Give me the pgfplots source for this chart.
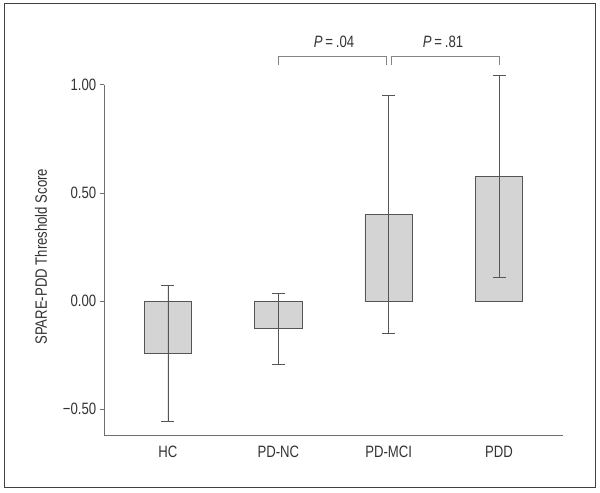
\documentclass[border=0pt]{standalone}
\usepackage{pgfplots}
\pgfplotsset{compat=1.18}
\usepackage{fontspec}
\setmainfont{Liberation Sans}[FakeStretch=0.8]
\definecolor{barfill}{HTML}{D4D4D4}
\definecolor{bardraw}{HTML}{555555}
\definecolor{axisgray}{HTML}{6E6E6E}
\definecolor{txt}{HTML}{333333}
\newcommand{\lblfont}{\fontsize{16.5pt}{19pt}\selectfont}
\begin{document}
\begin{tikzpicture}
\begin{axis}[
  width=459bp, height=351bp, scale only axis,
  xmin=-0.58, xmax=3.58, ymin=-0.622, ymax=1.00,
  axis x line*=bottom, axis y line*=left,
  axis line style={axisgray, line width=0.7pt, -},
  clip=false,
  xtick={0,1,2,3},
  xticklabels={HC, PD-NC, PD-MCI, PDD},
  x tick style={draw=none},
  xticklabel style={yshift=-3bp},
  ytick={-0.5,0,0.5,1},
  yticklabels={−0.50, 0.00, 0.50, 1.00},
  y tick style={axisgray, line width=0.7pt},
  tick align=outside,
  major tick length=4.3bp,
  ticklabel style={font=\lblfont, text=txt},
  ylabel={SPARE-PDD Threshold Score},
  ylabel style={at={(axis description cs:0,0.51)}, anchor=center, yshift=63bp, font=\lblfont, text=txt},
]
\addplot+[ybar, bar width=0.43, bar shift=0pt, fill=barfill, draw=bardraw, line width=0.6pt, mark=none,
  error bars/.cd, y dir=both, y explicit,
  error bar style={color=bardraw, line width=0.5pt},
  error mark options={rotate=90, mark size=6.5bp, color=bardraw, line width=0.5pt}]
  coordinates {
    (0,-0.240) +- (0,0.315)
    (1,-0.128) +- (0,0.164)
    (2,0.400) +- (0,0.549)
    (3,0.578) +- (0,0.466)
  };
% significance brackets
\draw[axisgray!85, line width=0.7pt] (axis cs:1,1.092) -- (axis cs:1,1.131) -- (axis cs:1.98,1.131) -- (axis cs:1.98,1.092);
\draw[axisgray!85, line width=0.7pt] (axis cs:2.025,1.092) -- (axis cs:2.025,1.131) -- (axis cs:3,1.131) -- (axis cs:3,1.092);
\node[text=txt, font=\lblfont] at (axis cs:1.505,1.197) {\textit{P}\,=\,.04};
\node[text=txt, font=\lblfont] at (axis cs:2.493,1.197) {\textit{P}\,=\,.81};
% outer frame
\draw[color=black!75, line width=0.8pt]
  ([xshift=-99.4bp, yshift=-51.3bp]rel axis cs:0,0) rectangle ([xshift=32bp, yshift=81.4bp]rel axis cs:1,1);
\path ([xshift=-104bp, yshift=-57.3bp]rel axis cs:0,0) rectangle ([xshift=37bp, yshift=84.7bp]rel axis cs:1,1);
\end{axis}
\end{tikzpicture}
\end{document}
